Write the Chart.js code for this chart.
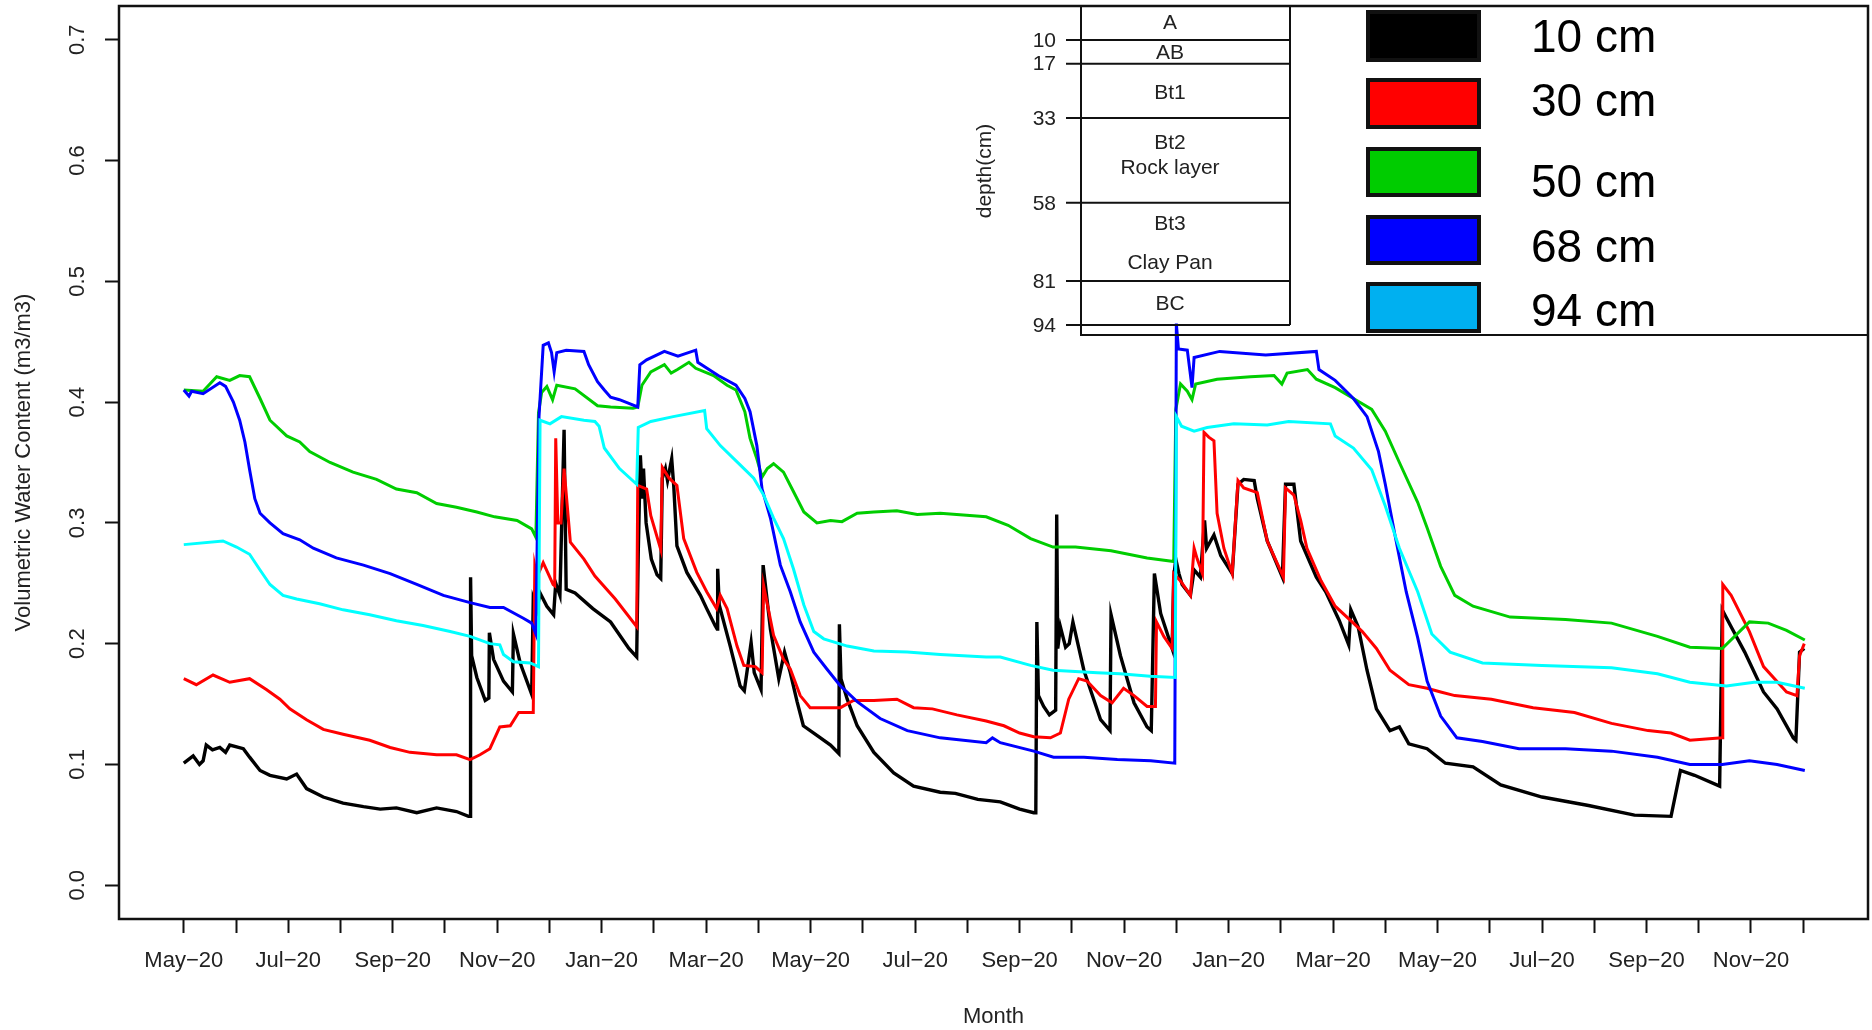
<!DOCTYPE html>
<html>
<head>
<meta charset="utf-8">
<script src="https://cdn.jsdelivr.net/npm/chart.js@4.4.1/dist/chart.umd.min.js"></script>
<style>
  html, body { margin: 0; padding: 0; background: #fff; }
  #wrap { width: 1872px; height: 1030px; }
</style>
</head>
<body>
<div id="wrap"><canvas id="vwcChart" width="1872" height="1030"></canvas></div>
<script>
// x = months since the first May (tick every month), y = volumetric water content
const monthLabels = ['May−20', 'Jul−20', 'Sep−20', 'Nov−20', 'Jan−20', 'Mar−20', 'May−20', 'Jul−20',
  'Sep−20', 'Nov−20', 'Jan−20', 'Mar−20', 'May−20', 'Jul−20', 'Sep−20', 'Nov−20'];
const monthCount = 32;
const yTicks = [0, 0.1, 0.2, 0.3, 0.4, 0.5, 0.6, 0.7];

const depth10 = [[0,0.101],[0.18,0.107],[0.3,0.100],[0.37,0.103],[0.43,0.116],[0.55,0.112],[0.69,0.114],[0.8,0.110],
  [0.88,0.116],[1.14,0.113],[1.26,0.106],[1.46,0.095],[1.65,0.091],[1.97,0.088],[2.16,0.092],[2.35,0.080],[2.67,0.073],
  [3.05,0.068],[3.44,0.065],[3.76,0.063],[4.07,0.064],[4.46,0.060],[4.84,0.064],[5.22,0.061],[5.45,0.057],[5.48,0.057],
  [5.49,0.255],[5.51,0.19],[5.61,0.172],[5.77,0.153],[5.84,0.155],[5.85,0.209],[5.93,0.187],[6.12,0.169],[6.29,0.160],
  [6.31,0.208],[6.44,0.184],[6.66,0.158],[6.69,0.237],[6.76,0.228],[6.82,0.242],[6.95,0.231],[7.08,0.224],[7.12,0.250],
  [7.20,0.240],[7.28,0.377],[7.32,0.245],[7.49,0.242],[7.83,0.229],[8.17,0.218],[8.52,0.196],[8.67,0.189],[8.70,0.276],
  [8.74,0.356],[8.78,0.320],[8.80,0.345],[8.85,0.300],[8.95,0.270],[9.06,0.257],[9.13,0.254],[9.16,0.337],[9.22,0.345],
  [9.26,0.335],[9.34,0.353],[9.38,0.330],[9.44,0.281],[9.63,0.259],[9.89,0.240],[10.01,0.229],[10.17,0.215],[10.21,0.212],
  [10.22,0.262],[10.25,0.232],[10.46,0.198],[10.65,0.165],[10.73,0.161],[10.86,0.201],[10.92,0.176],[11.05,0.162],
  [11.09,0.265],[11.23,0.212],[11.39,0.171],[11.50,0.193],[11.61,0.176],[11.74,0.152],[11.86,0.132],[12.12,0.124],
  [12.38,0.116],[12.54,0.109],[12.55,0.216],[12.58,0.171],[12.70,0.154],[12.89,0.132],[13.21,0.110],[13.59,0.093],
  [13.97,0.082],[14.48,0.077],[14.77,0.076],[15.2,0.071],[15.63,0.069],[16.0,0.063],[16.27,0.060],[16.31,0.060],
  [16.33,0.218],[16.36,0.157],[16.46,0.148],[16.57,0.141],[16.69,0.145],[16.71,0.307],[16.73,0.196],[16.78,0.214],
  [16.88,0.197],[16.95,0.200],[17.02,0.218],[17.23,0.178],[17.55,0.137],[17.73,0.128],[17.75,0.224],[17.93,0.190],
  [18.19,0.151],[18.44,0.131],[18.52,0.128],[18.58,0.258],[18.70,0.225],[18.92,0.196],[18.95,0.255],[18.99,0.270],
  [19.05,0.258],[19.11,0.249],[19.27,0.240],[19.34,0.261],[19.46,0.255],[19.54,0.302],[19.58,0.279],[19.72,0.290],
  [19.85,0.273],[20.07,0.258],[20.18,0.332],[20.29,0.336],[20.49,0.335],[20.55,0.320],[20.74,0.285],[21.03,0.255],
  [21.09,0.332],[21.25,0.332],[21.38,0.285],[21.68,0.255],[21.86,0.243],[22.12,0.219],[22.30,0.199],[22.34,0.228],
  [22.48,0.214],[22.65,0.178],[22.83,0.146],[23.09,0.128],[23.27,0.131],[23.45,0.117],[23.80,0.113],[24.15,0.101],
  [24.68,0.098],[25.21,0.083],[26.0,0.073],[26.89,0.066],[27.77,0.058],[28.47,0.057],[28.65,0.095],[28.92,0.091],
  [29.40,0.082],[29.45,0.228],[29.62,0.214],[29.88,0.193],[30.24,0.160],[30.50,0.146],[30.81,0.122],[30.86,0.120],
  [30.93,0.193],[31.02,0.196]];

const depth30 = [[0,0.171],[0.24,0.166],[0.56,0.174],[0.88,0.168],[1.26,0.171],[1.58,0.162],[1.84,0.154],[2.03,0.146],
  [2.35,0.137],[2.67,0.129],[3.05,0.125],[3.56,0.120],[3.95,0.114],[4.33,0.110],[4.84,0.108],[5.22,0.108],[5.48,0.104],
  [5.67,0.108],[5.86,0.113],[6.05,0.131],[6.25,0.132],[6.41,0.143],[6.69,0.143],[6.72,0.264],[6.76,0.255],[6.88,0.267],
  [7.07,0.249],[7.10,0.248],[7.12,0.370],[7.16,0.300],[7.22,0.300],[7.28,0.345],[7.40,0.284],[7.66,0.270],[7.87,0.256],
  [8.26,0.237],[8.67,0.214],[8.69,0.331],[8.86,0.328],[8.94,0.306],[9.13,0.278],[9.16,0.346],[9.29,0.337],[9.44,0.331],
  [9.57,0.287],[9.82,0.259],[10.01,0.243],[10.20,0.229],[10.27,0.240],[10.40,0.229],[10.59,0.198],[10.72,0.182],
  [10.94,0.181],[11.07,0.176],[11.10,0.248],[11.29,0.207],[11.48,0.187],[11.61,0.179],[11.80,0.157],[11.99,0.147],
  [12.31,0.147],[12.57,0.147],[12.82,0.153],[13.21,0.153],[13.65,0.154],[13.97,0.147],[14.33,0.146],[14.8,0.141],
  [15.36,0.136],[15.7,0.132],[16.0,0.126],[16.27,0.123],[16.59,0.122],[16.78,0.126],[16.94,0.154],[17.13,0.171],
  [17.29,0.169],[17.55,0.157],[17.77,0.151],[17.99,0.163],[18.19,0.157],[18.44,0.148],[18.60,0.148],[18.62,0.218],
  [18.76,0.206],[18.92,0.196],[18.95,0.258],[19.08,0.252],[19.27,0.240],[19.34,0.279],[19.40,0.270],[19.50,0.258],
  [19.53,0.375],[19.62,0.371],[19.72,0.368],[19.78,0.308],[19.91,0.279],[20.07,0.258],[20.18,0.335],[20.29,0.329],
  [20.55,0.325],[20.74,0.285],[21.05,0.255],[21.09,0.329],[21.25,0.323],[21.38,0.302],[21.5,0.279],[21.77,0.252],
  [22.04,0.231],[22.39,0.217],[22.56,0.210],[22.83,0.196],[23.09,0.178],[23.45,0.166],[23.80,0.163],[24.06,0.160],
  [24.33,0.157],[25.03,0.154],[25.83,0.147],[26.62,0.143],[27.33,0.134],[28.03,0.128],[28.47,0.126],[28.83,0.120],
  [29.45,0.122],[29.46,0.249],[29.62,0.240],[29.97,0.210],[30.24,0.181],[30.68,0.160],[30.88,0.157],[30.93,0.190],
  [31.02,0.200]];

const depth50 = [[0,0.410],[0.37,0.409],[0.63,0.421],[0.88,0.418],[1.07,0.422],[1.26,0.421],[1.46,0.403],[1.65,0.385],
  [1.97,0.372],[2.22,0.367],[2.41,0.359],[2.80,0.350],[3.24,0.342],[3.69,0.336],[4.07,0.328],[4.46,0.325],[4.84,0.316],
  [5.22,0.313],[5.61,0.309],[5.95,0.305],[6.38,0.302],[6.66,0.295],[6.74,0.288],[6.79,0.391],[6.85,0.408],[6.95,0.413],
  [7.06,0.402],[7.14,0.414],[7.49,0.411],[7.92,0.397],[8.17,0.396],[8.6,0.395],[8.69,0.396],[8.77,0.414],[8.94,0.425],
  [9.20,0.431],[9.33,0.424],[9.45,0.427],[9.67,0.433],[9.80,0.428],[10.14,0.422],[10.40,0.414],[10.57,0.410],
  [10.74,0.392],[10.84,0.370],[10.97,0.353],[11.07,0.338],[11.17,0.345],[11.29,0.349],[11.48,0.342],[11.67,0.326],
  [11.87,0.309],[12.12,0.300],[12.38,0.302],[12.6,0.301],[12.89,0.308],[13.21,0.309],[13.65,0.310],[14.04,0.307],
  [14.48,0.308],[15.36,0.305],[15.78,0.298],[16.21,0.287],[16.64,0.280],[17.07,0.280],[17.75,0.277],[18.44,0.271],
  [18.95,0.268],[18.99,0.394],[19.08,0.415],[19.21,0.409],[19.30,0.402],[19.37,0.415],[19.78,0.419],[20.42,0.421],
  [20.87,0.422],[21.02,0.415],[21.12,0.424],[21.51,0.427],[21.68,0.419],[22.04,0.412],[22.39,0.403],[22.74,0.394],
  [23.0,0.376],[23.27,0.350],[23.62,0.317],[23.8,0.296],[24.06,0.264],[24.33,0.240],[24.68,0.231],[25.39,0.222],
  [26.45,0.220],[27.33,0.217],[28.21,0.206],[28.83,0.197],[29.45,0.196],[29.97,0.218],[30.33,0.217],[30.68,0.211],
  [31.03,0.203]];

const depth68 = [[0,0.410],[0.1,0.405],[0.15,0.409],[0.37,0.407],[0.69,0.416],[0.8,0.413],[0.95,0.400],[1.07,0.385],
  [1.17,0.367],[1.26,0.344],[1.36,0.320],[1.46,0.308],[1.65,0.300],[1.90,0.291],[2.22,0.286],[2.48,0.279],[2.92,0.271],
  [3.44,0.265],[3.95,0.258],[4.46,0.249],[4.97,0.240],[5.48,0.234],[5.86,0.230],[6.12,0.230],[6.50,0.221],[6.66,0.217],
  [6.74,0.208],[6.80,0.388],[6.88,0.447],[6.98,0.449],[7.04,0.441],[7.09,0.425],[7.14,0.441],[7.32,0.443],[7.66,0.442],
  [7.75,0.431],[7.92,0.417],[8.05,0.410],[8.17,0.404],[8.34,0.402],[8.52,0.399],[8.69,0.396],[8.73,0.431],[8.86,0.435],
  [9.20,0.442],[9.46,0.438],[9.80,0.443],[9.84,0.433],[10.23,0.422],[10.57,0.414],[10.74,0.403],[10.84,0.392],
  [10.97,0.364],[11.07,0.328],[11.23,0.304],[11.42,0.265],[11.61,0.243],[11.80,0.218],[12.06,0.193],[12.31,0.179],
  [12.57,0.165],[12.89,0.152],[13.33,0.138],[13.85,0.128],[14.48,0.122],[15.36,0.118],[15.48,0.122],[15.63,0.118],
  [16.27,0.111],[16.65,0.106],[17.23,0.106],[17.87,0.104],[18.51,0.103],[18.97,0.101],[19.0,0.465],[19.04,0.444],
  [19.21,0.443],[19.30,0.412],[19.34,0.437],[19.83,0.442],[20.71,0.439],[21.68,0.442],[21.73,0.427],[22.04,0.418],
  [22.39,0.403],[22.65,0.388],[22.87,0.359],[23.0,0.332],[23.18,0.291],[23.40,0.243],[23.62,0.205],[23.80,0.169],
  [24.06,0.140],[24.37,0.122],[24.86,0.119],[25.56,0.113],[26.45,0.113],[27.33,0.111],[28.21,0.106],[28.83,0.100],
  [29.45,0.100],[29.97,0.103],[30.5,0.100],[31.03,0.095]];

const depth94 = [[0,0.282],[0.75,0.285],[1.01,0.280],[1.26,0.274],[1.46,0.261],[1.65,0.249],[1.90,0.240],[2.16,0.237],
  [2.60,0.233],[3.05,0.228],[3.56,0.224],[4.07,0.219],[4.58,0.215],[5.10,0.210],[5.48,0.206],[5.86,0.200],[6.05,0.199],
  [6.12,0.191],[6.31,0.185],[6.63,0.184],[6.79,0.181],[6.82,0.385],[7.01,0.382],[7.23,0.388],[7.66,0.385],[7.87,0.384],
  [7.95,0.380],[8.05,0.362],[8.34,0.345],[8.67,0.332],[8.70,0.379],[8.94,0.384],[9.37,0.388],[9.97,0.393],[10.01,0.378],
  [10.27,0.364],[10.65,0.348],[10.91,0.337],[11.10,0.323],[11.29,0.304],[11.48,0.287],[11.67,0.262],[11.87,0.232],
  [12.06,0.210],[12.25,0.204],[12.70,0.198],[13.21,0.194],[13.85,0.193],[14.48,0.191],[15.36,0.189],[15.63,0.189],
  [16.21,0.182],[16.64,0.178],[17.49,0.176],[17.92,0.175],[18.5,0.173],[18.98,0.172],[19.0,0.388],[19.1,0.380],
  [19.34,0.376],[19.59,0.379],[20.1,0.382],[20.74,0.381],[21.15,0.384],[21.95,0.382],[22.04,0.372],[22.39,0.362],
  [22.74,0.344],[23.0,0.314],[23.27,0.279],[23.62,0.243],[23.89,0.208],[24.24,0.193],[24.86,0.184],[26.0,0.182],
  [27.33,0.180],[28.21,0.175],[28.83,0.168],[29.53,0.165],[30.06,0.168],[30.5,0.168],[31.03,0.163]];

const seriesNames = ['10 cm', '30 cm', '50 cm', '68 cm', '94 cm'];
const lineColors = ['#000000', '#ff0000', '#00cd00', '#0000ff', '#00ffff'];
const keyColors = ['#000000', '#ff0000', '#00cc00', '#0000ff', '#00b0f0'];

// soil profile: horizon boundaries (cm) and horizon names
const horizonDepths = [10, 17, 33, 58, 81, 94];
const horizonNames = [['A', 23], ['AB', 53], ['Bt1', 93], ['Bt2', 143], ['Rock layer', 168],
  ['Bt3', 224], ['Clay Pan', 263], ['BC', 304]];

const FONT = "'Liberation Sans', Arial, sans-serif";
Chart.defaults.font.family = FONT;
Chart.defaults.color = '#222';

const insetPlugin = {
  id: 'profileInset',
  afterDraw(chart) {
    const { ctx, chartArea: a } = chart;
    ctx.save();
    // plot frame
    ctx.strokeStyle = '#111';
    ctx.lineWidth = 2.5;
    ctx.strokeRect(a.left, a.top, a.right - a.left, a.bottom - a.top);

    // inset box
    const boxL = 1081, boxB = 335, colR = 1290, colTop = 6, colB = 325;
    ctx.lineWidth = 2;
    ctx.beginPath();
    ctx.moveTo(boxL, a.top); ctx.lineTo(boxL, boxB); ctx.lineTo(a.right, boxB);
    ctx.moveTo(colR, a.top); ctx.lineTo(colR, colB);
    ctx.stroke();

    const depthY = d => colTop + d * (colB - colTop) / 94;
    ctx.font = '21px ' + FONT;
    ctx.fillStyle = '#222';
    ctx.textBaseline = 'middle';
    horizonDepths.forEach(d => {
      const y = depthY(d);
      ctx.beginPath();
      ctx.moveTo(1066, y); ctx.lineTo(colR, y);
      ctx.stroke();
      ctx.textAlign = 'right';
      ctx.fillText(String(d), 1056, y + 1);
    });
    ctx.textAlign = 'center';
    horizonNames.forEach(([name, y]) => ctx.fillText(name, 1170, y));

    ctx.save();
    ctx.translate(985, 171);
    ctx.rotate(-Math.PI / 2);
    ctx.fillText('depth(cm)', 0, 0);
    ctx.restore();

    // colour key
    const keyTops = [10, 78, 147, 215, 282];
    const keyBottoms = [62, 129, 197, 265, 333];
    const labelY = [39, 103, 184, 249, 313];
    seriesNames.forEach((name, i) => {
      const x = 1366, w = 115, y = keyTops[i], h = keyBottoms[i] - keyTops[i];
      ctx.fillStyle = keyColors[i];
      ctx.fillRect(x, y, w, h);
      ctx.lineWidth = 4;
      ctx.strokeStyle = '#111';
      ctx.strokeRect(x + 2, y + 2, w - 4, h - 4);
      ctx.fillStyle = '#000';
      ctx.textAlign = 'left';
      ctx.font = '46px ' + FONT;
      ctx.fillText(name, 1531, labelY[i]);
    });
    ctx.restore();
  }
};

const seriesData = [depth10, depth30, depth50, depth68, depth94];
const datasets = seriesData.map((pts, i) => ({
  label: seriesNames[i],
  data: pts.map(([x, y]) => ({ x, y })),
  borderColor: lineColors[i],
  borderWidth: i === 0 ? 3.4 : 3,
  pointRadius: 0,
  tension: 0,
  fill: false,
  order: seriesData.length - i
}));

new Chart(document.getElementById('vwcChart'), {
  type: 'line',
  data: { datasets },
  plugins: [insetPlugin],
  options: {
    responsive: false,
    devicePixelRatio: 1,
    animation: false,
    events: [],
    layout: { padding: { top: 6, right: 4, bottom: 0, left: 0 } },
    plugins: { legend: { display: false }, tooltip: { enabled: false } },
    scales: {
      x: {
        type: 'linear',
        min: -1.24,
        max: 32.24,
        afterBuildTicks: s => { s.ticks = Array.from({ length: monthCount }, (_, i) => ({ value: i })); },
        afterFit: s => { s.height = 111; s.paddingLeft = 0; s.paddingRight = 0; },
        grid: { drawOnChartArea: false, drawTicks: true, tickLength: 14, tickWidth: 2, tickColor: '#111' },
        border: { display: false },
        ticks: {
          autoSkip: false,
          maxRotation: 0,
          padding: 15,
          font: { size: 22 },
          color: '#222',
          callback: v => (v % 2 === 0 ? monthLabels[v / 2] : '')
        },
        title: { display: true, text: 'Month', font: { size: 22 }, color: '#222', padding: { top: 0, bottom: 0 } }
      },
      y: {
        min: -0.028,
        max: 0.728,
        afterBuildTicks: s => { s.ticks = yTicks.map(v => ({ value: v })); },
        afterFit: s => { s.width = 119; s.paddingTop = 0; s.paddingBottom = 0; },
        grid: { drawOnChartArea: false, drawTicks: true, tickLength: 14, tickWidth: 2, tickColor: '#111' },
        border: { display: false },
        ticks: {
          minRotation: 90,
          maxRotation: 90,
          crossAlign: 'center',
          padding: 12,
          font: { size: 22 },
          color: '#222',
          callback: v => v.toFixed(1)
        },
        title: { display: true, text: 'Volumetric Water Content (m3/m3)', font: { size: 22 }, color: '#222',
          padding: { top: 11, bottom: 0 } }
      }
    }
  }
});
</script>
</body>
</html>
